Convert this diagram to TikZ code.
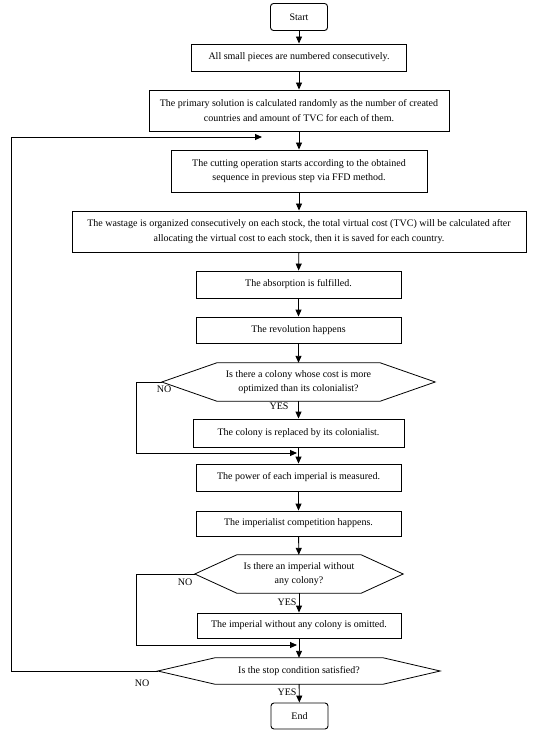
\documentclass[tikz,border=0pt]{standalone}
\usepackage{fontspec}
\setmainfont{Liberation Serif}
\usetikzlibrary{arrows.meta,calc}
\newcommand\hexof[2]{%
  \draw[hexa] (#1.west) -- ($(#1.north west)+(#2,0)$) -- ($(#1.north east)+(-#2,0)$)
    -- (#1.east) -- ($(#1.south east)+(-#2,0)$) -- ($(#1.south west)+(#2,0)$) -- cycle;}
\begin{document}
\begin{tikzpicture}[x=1pt,y=-1pt,
  every node/.style={font=\fontsize{10}{14.5}\selectfont},
  box/.style={draw,line width=0.9pt,inner sep=0pt,align=center},
  term/.style={box,rounded corners=3pt},
  deci/.style={inner sep=0pt,align=center},
  hexa/.style={draw,line width=0.8pt},
  flow/.style={draw,line width=0.9pt,-{Triangle[length=7pt,width=6pt]}},
  lbl/.style={inner sep=0pt}]
\useasboundingbox[fill=white] (0,0) rectangle (533,735);

\node[term,minimum width=57pt,minimum height=27pt] (start) at (299,17) {Start};
\node[box,minimum width=215pt,minimum height=27pt] (b1) at (299,57.5) {All small pieces are numbered consecutively.};
\node[box,minimum width=300pt,minimum height=41pt] (b2) at (299,110.5) {The primary solution is calculated randomly as the number of created\\countries and amount of TVC for each of them.};
\node[box,minimum width=256pt,minimum height=42pt] (b3) at (299,171) {The cutting operation starts according to the obtained\\sequence in previous step via FFD method.};
\node[box,minimum width=454pt,minimum height=41pt] (b4) at (299,231.5) {The wastage is organized consecutively on each stock, the total virtual cost (TVC) will be calculated after\\allocating the virtual cost to each stock, then it is saved for each country.};
\node[box,minimum width=205pt,minimum height=27pt] (b5) at (298.5,284.5) {The absorption is fulfilled.};
\node[box,minimum width=205pt,minimum height=26pt] (b6) at (298.5,330) {The revolution happens};
\node[deci,minimum width=273pt,minimum height=38pt] (d1) at (298.5,382) {Is there a colony whose cost is more\\optimized than its colonialist?};
\hexof{d1}{55}
\node[box,minimum width=211pt,minimum height=28pt] (b7) at (298.5,433) {The colony is replaced by its colonialist.};
\node[box,minimum width=205pt,minimum height=27pt] (b8) at (298.5,477.5) {The power of each imperial is measured.};
\node[box,minimum width=205pt,minimum height=25pt] (b9) at (298.5,523.5) {The imperialist competition happens.};
\node[deci,minimum width=208pt,minimum height=38pt] (d2) at (299,574) {Is there an imperial without\\any colony?};
\hexof{d2}{42}
\node[box,minimum width=204pt,minimum height=25pt] (b10) at (299,625.5) {The imperial without any colony is omitted.};
\node[deci,minimum width=282pt,minimum height=26pt] (d3) at (299,671) {Is the stop condition satisfied?};
\hexof{d3}{57}
\node[term,minimum width=57pt,minimum height=26pt] (end) at (299.5,716) {End};

\node[lbl] (yes1) at (279,406) {YES};
\node[lbl] (no1) at (164,389) {NO};
\node[lbl] (yes2) at (287,602) {YES};
\node[lbl] (no2) at (185,582) {NO};
\node[lbl] (yes3) at (287,692) {YES};
\node[lbl] (no3) at (142,683) {NO};

\draw[flow] (start) -- (b1);
\draw[flow] (b1) -- (b2);
\draw[flow] (b2) -- (b3);
\draw[flow] (b3) -- (b4);
\draw[flow] (b4) -- (b5);
\draw[flow] (b5) -- (b6);
\draw[flow] (b6) -- (d1);
\draw[flow] (d1) -- (b7);
\draw[flow] (b7) -- (b8);
\draw[flow] (b8) -- (b9);
\draw[flow] (b9) -- (d2);
\draw[flow] (d2) -- (b10);
\draw[flow] (b10) -- (d3);
\draw[flow] (d3) -- (end);

\coordinate (m1) at (297,453);
\coordinate (m2) at (297,645);
\coordinate (m3) at (262,137);
\draw[flow] (d1.west) -- ++(-25,0) |- (m1);
\draw[flow] (d2.west) -- ++(-58,0) |- (m2);
\draw[flow] (d3.west) -- ++(-146,0) |- (m3);
\end{tikzpicture}
\end{document}
